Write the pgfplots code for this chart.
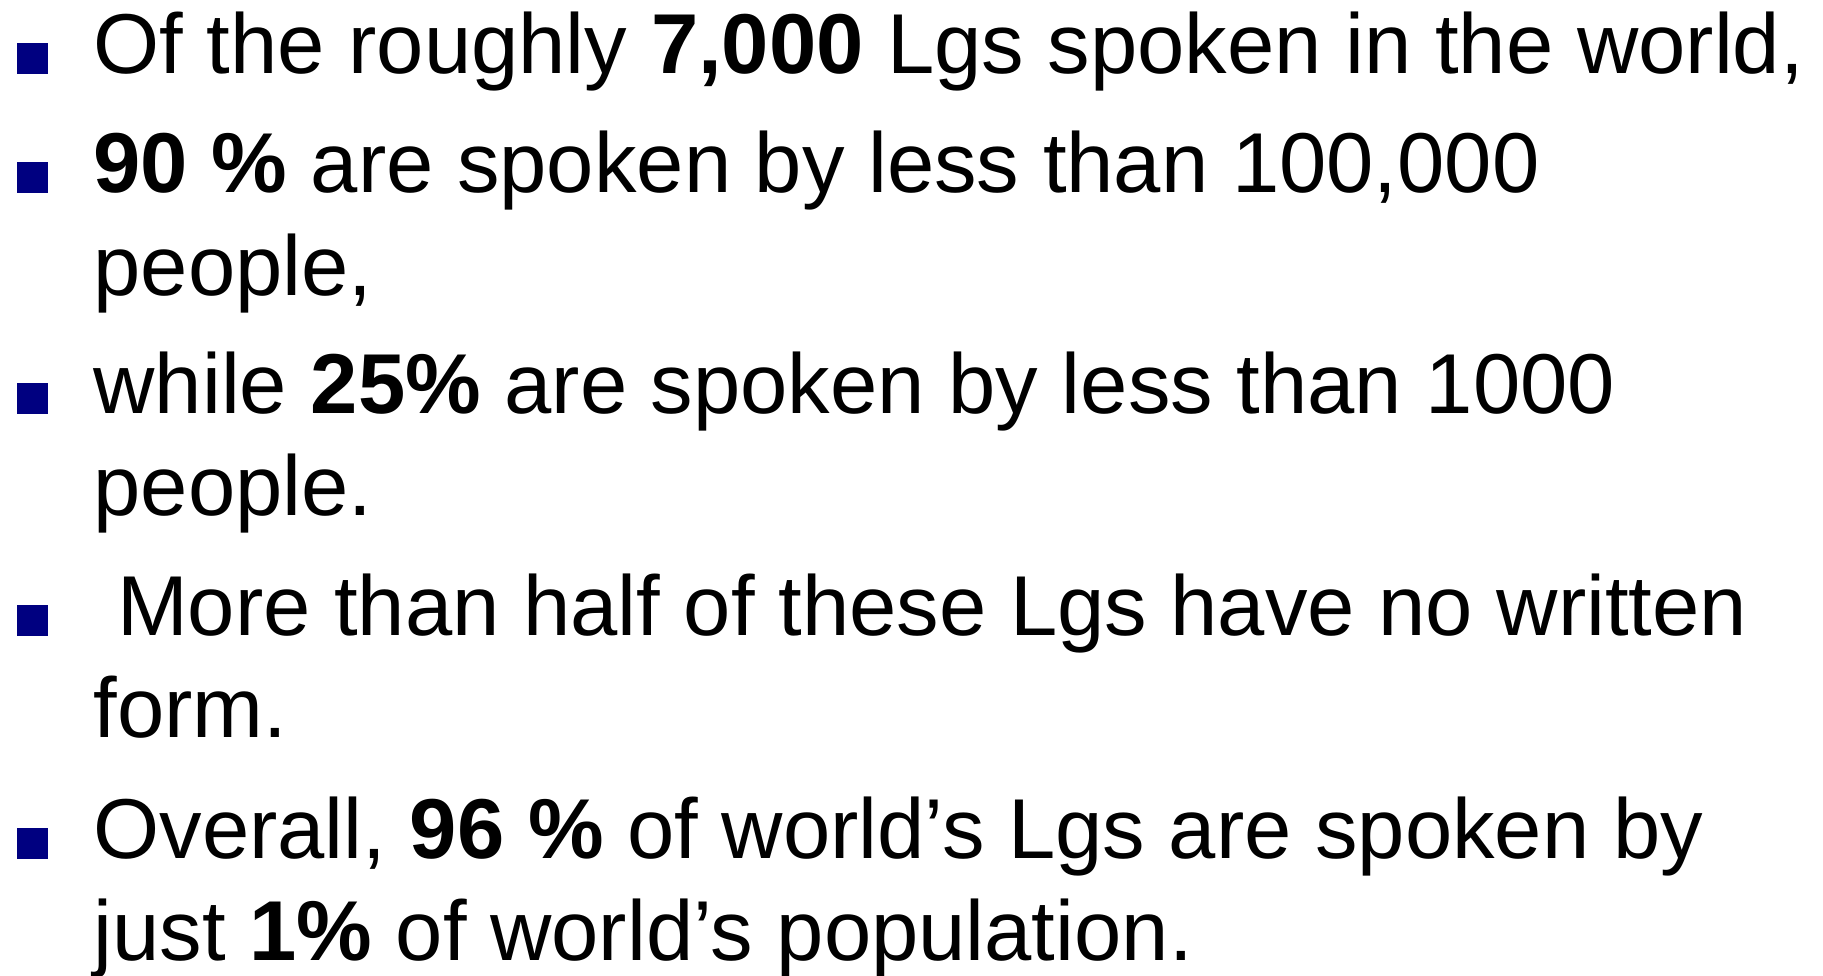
\documentclass[border=0pt]{standalone}
\usepackage{fontspec}
\setmainfont{Liberation Sans}
\usepackage{pgfplots}
\pgfplotsset{compat=1.18}
\definecolor{bulletnavy}{RGB}{0,0,128}
\tikzset{txt/.style={anchor=base west, inner sep=0pt, font=\fontsize{34}{40.8}\selectfont}}
\begin{document}
\begin{tikzpicture}
\begin{axis}[name=ax, width=729.2pt, height=390.4pt, scale only axis, hide axis,
  xmin=0, xmax=1823, ymin=0, ymax=976, y dir=reverse, clip=false]
\addplot[draw=none] coordinates {(0,0) (1823,976)};
\addplot[only marks, mark=square*, color=bulletnavy, mark size=6pt,
  mark options={line width=0pt}]
  coordinates {(32,58) (32,177) (32,398) (32,620) (32,843)};
\node[txt] at (axis cs:93,73) {Of the roughly \textbf{7,000} Lgs spoken in the world,};
\node[txt] at (axis cs:93,192) {\textbf{90 \%} are spoken by less than 100,000};
\node[txt] at (axis cs:93,295) {people,};
\node[txt] at (axis cs:93,413) {while \textbf{25\%} are spoken by less than 1000};
\node[txt] at (axis cs:93,515) {people.};
\node[txt] at (axis cs:93,635) {\ More than half of these Lgs have no written};
\node[txt] at (axis cs:93,737) {form.};
\node[txt] at (axis cs:93,858) {Overall, \textbf{96 \%} of world’s Lgs are spoken by};
\node[txt] at (axis cs:93,960) {just \textbf{1\%} of world’s population.};
\end{axis}
\pgfresetboundingbox
\path[use as bounding box] (ax.south west) rectangle (ax.north east);
\end{tikzpicture}
\end{document}
